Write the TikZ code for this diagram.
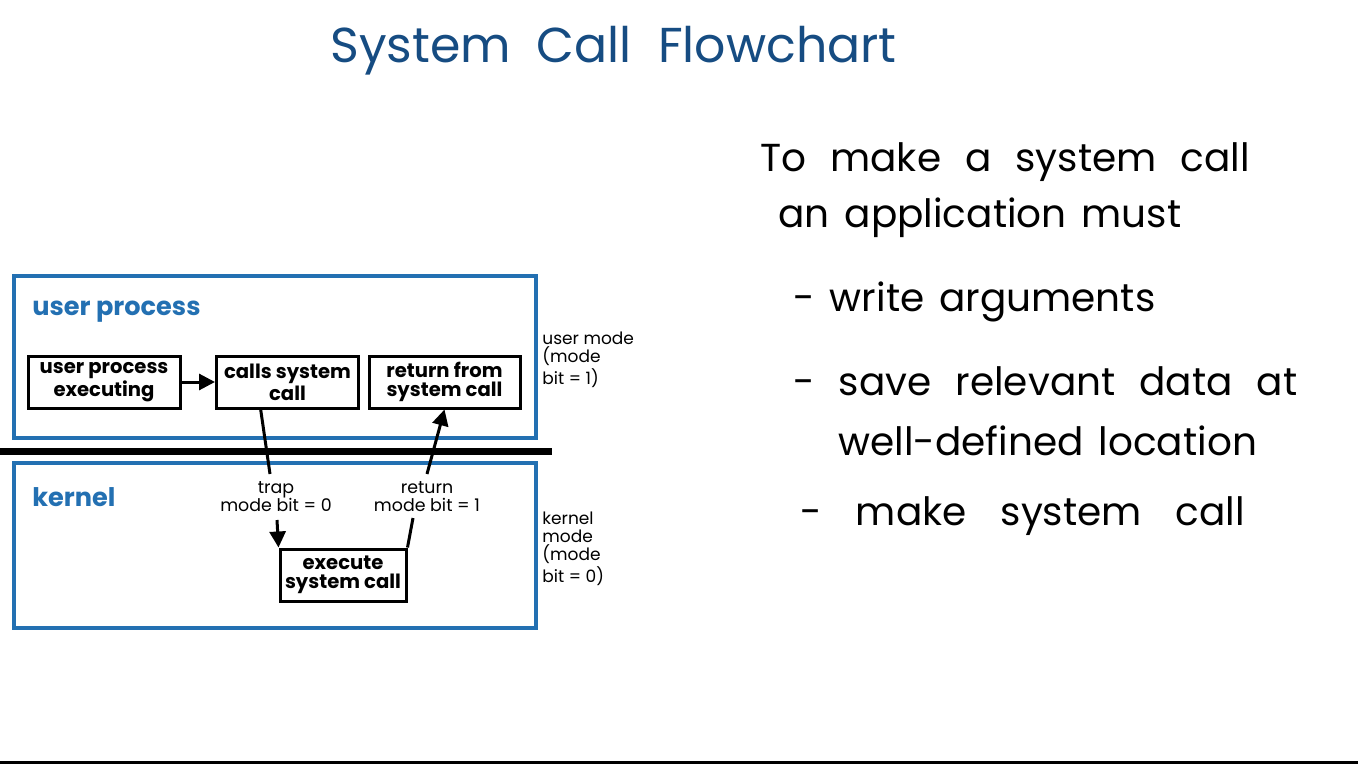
\documentclass[tikz,border=0pt]{standalone}
\usepackage{fontspec}
\setmainfont{Poppins}
\newfontfamily\handfont{Poppins}
\usetikzlibrary{calc,arrows.meta}
\definecolor{boxblue}{RGB}{35,112,178}
\definecolor{titleblue}{RGB}{22,76,130}
\tikzset{
  region/.style={draw=boxblue, line width=2pt},
  stepbox/.style={draw=black, line width=1.5pt, minimum width=71pt, minimum height=26pt, inner sep=0pt,
    align=center, font=\fontsize{9.8}{9.6}\selectfont\bfseries},
  regionlabel/.style={anchor=base west, text=boxblue, font=\fontsize{12.8}{13}\selectfont\bfseries, inner sep=0pt},
  sidelabel/.style={anchor=north west, align=left, inner sep=0pt, font=\fontsize{8.5}{9}\selectfont},
  modelabel/.style={align=center, inner sep=0pt, font=\fontsize{8.7}{9}\selectfont},
  flow/.style={draw=black, line width=1.5pt},
  flowarrow/.style={flow, -{Triangle[length=8pt,width=8pt]}},
  wordgap/.style={execute at begin node={\spaceskip=#1\relax}},
  hand/.style={anchor=base west, inner sep=0pt, font=\handfont\fontsize{19.5}{22}\selectfont, wordgap=#1},
  hand/.default=7.5pt,
}
\begin{document}
\begin{tikzpicture}[x=0.5pt,y=-0.5pt]
\useasboundingbox (0,0) rectangle (1358,764);
\fill[white] (0,0) rectangle (1358,764);
\fill[black] (0,761) rectangle (1358,764);
% title
\node[anchor=base west, inner sep=0pt, text=titleblue, font=\handfont\fontsize{24.5}{30}\selectfont, wordgap=13pt] (title) at (330,63) {System Call Flowchart};
% regions
\node[region, minimum width=261pt, minimum height=81pt, inner sep=0pt] (user) at (275,357) {};
\node[region, minimum width=261pt, minimum height=82.5pt, inner sep=0pt] (kernel) at (275,545.5) {};
\draw[line width=3.5pt] (0,451) -- (552,451) coordinate (divend);
\node[regionlabel] (userlbl) at (32,315) {user process};
\node[regionlabel] (kernlbl) at (32,506) {kernel};
% step boxes
\node[stepbox, minimum width=76pt] (A) at (104,382) {user process\\executing};
\node[stepbox] (B) at (287.5,382) {calls system\\call};
\node[stepbox, minimum width=75.5pt] (C) at (444.5,382) {return from\\system call};
\node[stepbox, minimum width=63pt] (D) at (343,575) {execute\\system call};
% side labels
\node[sidelabel] (um) at (542,332) {user mode\\(mode\\bit = 1)};
\node[sidelabel] (km) at (542,512) {kernel\\mode\\(mode\\bit = 0)};
% mode labels
\node[modelabel] (trapL) at (276,497) {trap\\mode bit = 0};
\node[modelabel] (retL) at (427,497) {return\\mode bit = 1};
% connectors
\draw[flowarrow] (A) -- (B);
\coordinate (trapstart) at ($(B.south west)!0.315!(B.south east)$);
\coordinate (trapmid) at (270,474);
\coordinate (trapresume) at (277,520);
\draw[flow] (trapstart) -- (trapmid);
\draw[flowarrow] (trapresume) -- (D.north west);
\coordinate (retmid) at (413,518);
\coordinate (retresume) at (427,474);
\draw[flow] (D.north east) -- (retmid);
\draw[flowarrow] (retresume) -- (C.south);
% handwritten notes
\node[hand=12pt] (n1) at (760,172) {To make a system call};
\node[hand] (n2) at (778,228) {an application must};
\node[hand] (n3) at (793,312) {- write arguments};
\node[hand=12pt] (n4) at (793,395) {- save relevant data at};
\node[hand] (n5) at (838,455) {well-defined location};
\node[hand=17pt] (n6) at (800,525) {- make system call};
\end{tikzpicture}
\end{document}
